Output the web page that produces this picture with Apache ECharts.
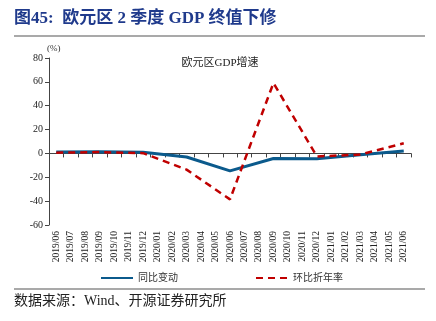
<!DOCTYPE html>
<html><head><meta charset="utf-8">
<script src="https://cdn.jsdelivr.net/npm/echarts@6/dist/echarts.min.js"></script>
<style>html,body{margin:0;padding:0;background:#fff}#c{width:436px;height:321px}</style>
</head><body><div id="c"></div>
<script>
const categories = ['2019/06','2019/07','2019/08','2019/09','2019/10','2019/11','2019/12','2020/01','2020/02','2020/03','2020/04','2020/05','2020/06','2020/07','2020/08','2020/09','2020/10','2020/11','2020/12','2021/01','2021/02','2021/03','2021/04','2021/05','2021/06'];
// quarterly values, months between quarters left empty and joined by the line
const yoy = [1.2,null,null,1.4,null,null,1.0,null,null,-3.0,null,null,-14.6,null,null,-4.2,null,null,-4.4,null,null,-1.2,null,null,2.0];
const qoqAnnual = [0.6,null,null,1.1,null,null,0.2,null,null,-13.6,null,null,-38.5,null,null,59.0,null,null,-2.5,null,null,-1.0,null,null,8.5];
const yTicks = {min:-60, max:80, interval:20};

const serif = '"Liberation Serif","Times New Roman",serif';
const cjk = '"Liberation Serif","Noto Sans CJK SC",serif';
const chart = echarts.init(document.getElementById('c'));
chart.setOption({
  animation:false,
  title:{text:'欧元区GDP增速', left:215, top:53, textAlign:'center',
    textStyle:{fontSize:11, fontWeight:'normal', color:'#222', fontFamily:cjk}},
  graphic:[
    {type:'text', left:14, top:10, style:{text:'图45:  欧元区 2 季度 GDP 终值下修', fontSize:17, fontWeight:'bold', fill:'#1f3a8c', fontFamily:cjk}},
    {type:'line', shape:{x1:14,y1:36,x2:425,y2:36}, style:{stroke:'#8c8c8c', lineWidth:1.5}},
    {type:'line', shape:{x1:14,y1:289,x2:425,y2:289}, style:{stroke:'#8c8c8c', lineWidth:1.5}},
    {type:'text', left:14, top:294, style:{text:'数据来源：Wind、开源证券研究所', fontSize:14, fill:'#222', fontFamily:cjk}}
  ],
  legend:{left:95, top:268, itemWidth:32, itemHeight:10, itemGap:77,
    itemStyle:{opacity:0},
    textStyle:{fontSize:10, color:'#333', fontFamily:cjk},
    data:['同比变动','环比折年率']},
  grid:{left:49, right:25, top:58, bottom:96},
  xAxis:[
    {type:'category', data:categories, boundaryGap:true, position:'bottom',
      axisLine:{show:false, onZero:false}, axisTick:{show:false},
      axisLabel:{rotate:90, fontSize:9.5, color:'#222', fontFamily:serif, interval:0, margin:6}},
    {type:'category', data:categories, boundaryGap:true, position:'bottom',
      axisLine:{show:true, onZero:true, lineStyle:{color:'#444', width:1}},
      axisTick:{show:true, length:4, interval:0, lineStyle:{color:'#444'}},
      axisLabel:{show:false}}
  ],
  yAxis:{type:'value', min:yTicks.min, max:yTicks.max, interval:yTicks.interval,
    name:'(%)', nameGap:3, nameTextStyle:{fontSize:9, color:'#333', fontFamily:serif, align:'left', padding:[0,0,0,-2]},
    axisLine:{show:true, lineStyle:{color:'#444'}}, axisTick:{show:true, length:4, lineStyle:{color:'#444'}},
    splitLine:{show:false},
    axisLabel:{fontSize:10, color:'#222', fontFamily:serif, margin:6}},
  series:[
    {name:'同比变动', type:'line', data:yoy, connectNulls:true, symbol:'none', z:3,
      lineStyle:{color:'#0b5a8c', width:3}, itemStyle:{color:'#0b5a8c'}},
    {name:'环比折年率', type:'line', data:qoqAnnual, connectNulls:true, symbol:'none', z:4,
      lineStyle:{color:'#c00000', width:2.5, type:[7,5]}, itemStyle:{color:'#c00000'}}
  ]
});
</script></body></html>
